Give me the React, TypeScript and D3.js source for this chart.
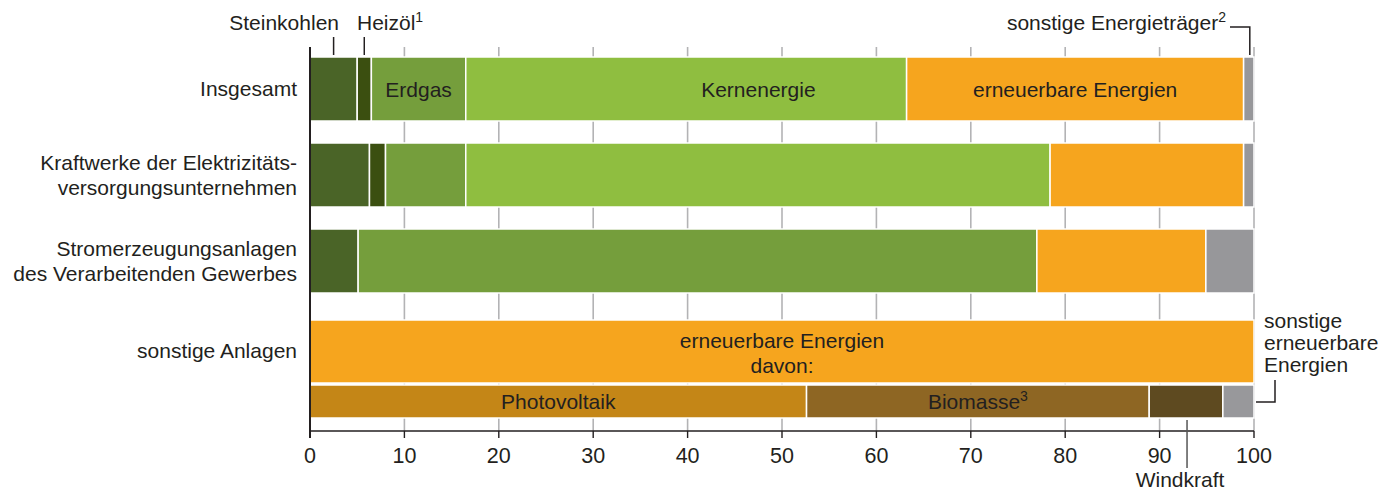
import React from "react";
import * as d3 from "d3";

// ---------- data ----------
const categories = [
  "Insgesamt",
  "Kraftwerke der Elektrizitäts-|versorgungsunternehmen",
  "Stromerzeugungsanlagen|des Verarbeitenden Gewerbes",
  "sonstige Anlagen",
];
const seriesKeys = ["Steinkohlen", "Heizöl", "Erdgas", "Kernenergie", "erneuerbare Energien", "sonstige Energieträger"];
const steinkohlen = [5.0, 6.3, 5.1, 0];
const heizoel = [1.5, 1.7, 0, 0];
const erdgas = [10.0, 8.5, 71.9, 0];
const kernenergie = [46.7, 61.9, 0, 0];
const erneuerbare = [35.7, 20.5, 17.9, 100];
const sonstige = [1.1, 1.1, 5.1, 0];
const seriesColors = ["#4a6427", "#3b4f10", "#759e3c", "#8fbe40", "#f6a51e", "#97979a"];

const davonKeys = ["Photovoltaik", "Biomasse", "Windkraft", "sonstige erneuerbare Energien"];
const davonValues = [52.6, 36.3, 7.8, 3.3];
const davonColors = ["#c48617", "#8e6623", "#5e4a20", "#98989b"];

const xTicks = [0, 10, 20, 30, 40, 50, 60, 70, 80, 90, 100];

// ---------- layout ----------
const W = 1384;
const H = 490;
const FONT = "'Liberation Sans', Arial, Helvetica, sans-serif";
const TXT = "#231f20";
const FS = 21;
const SUP = 14;

export default function App() {
  const x = d3.scaleLinear().domain([0, 100]).range([310, 1254]);
  const y = d3.scaleLinear().domain([0, 3]).range([57, 315]);
  const barH = 64;
  const axisY = 431;

  const rows = categories.map((c, i) => ({
    cat: c,
    "Steinkohlen": steinkohlen[i],
    "Heizöl": heizoel[i],
    "Erdgas": erdgas[i],
    "Kernenergie": kernenergie[i],
    "erneuerbare Energien": erneuerbare[i],
    "sonstige Energieträger": sonstige[i],
  }));
  const stacked = d3.stack<any>().keys(seriesKeys)(rows);

  const davonRow = [Object.fromEntries(davonKeys.map((k, i) => [k, davonValues[i]]))];
  const davonStack = d3.stack<any>().keys(davonKeys)(davonRow);

  const rowTop = (i: number) => (i === 3 ? y(i) + 5 : y(i));
  const rowHeight = (i: number) => (i === 3 ? 63 : barH);
  const subTop = y(3) + 70;
  const subH = 33;

  const mid = (a: number, b: number) => x((a + b) / 2);
  const seg = (k: number, r: number) => stacked[k][r];

  return (
    <svg
      width={W}
      height={H}
      style={{ display: "block", fontFamily: FONT, position: "absolute", left: 0, top: 0 }}
    >
      {/* grid lines */}
      {xTicks.filter((t) => t > 0).map((t) => (
        <line key={"g" + t} x1={x(t)} x2={x(t)} y1={47} y2={axisY} stroke="#b3b3b5" strokeWidth={1.6} />
      ))}

      {/* stacked bars */}
      {stacked.map((s, k) =>
        s.map((d, r) => {
          const w = x(d[1]) - x(d[0]);
          if (w <= 0) return null;
          return (
            <rect
              key={`b${k}-${r}`}
              x={x(d[0])}
              y={rowTop(r)}
              width={w}
              height={rowHeight(r)}
              fill={seriesColors[k]}
              stroke="#fff"
              strokeWidth={1.5}
            />
          );
        })
      )}

      {/* davon bars */}
      {davonStack.map((s, k) => {
        const d = s[0];
        return (
          <rect
            key={"d" + k}
            x={x(d[0])}
            y={subTop}
            width={x(d[1]) - x(d[0])}
            height={subH}
            fill={davonColors[k]}
            stroke="#fff"
            strokeWidth={1.5}
          />
        );
      })}

      {/* axes */}
      <line x1={x(0)} x2={x(0)} y1={47} y2={axisY + 7} stroke="#231f20" strokeWidth={2} />
      <line x1={x(0)} x2={x(100)} y1={axisY} y2={axisY} stroke="#231f20" strokeWidth={1.6} />
      {xTicks.map((t) => (
        <g key={"t" + t}>
          <line x1={x(t)} x2={x(t)} y1={axisY} y2={axisY + 7} stroke="#231f20" strokeWidth={1.4} />
          <text x={x(t)} y={axisY + 32} textAnchor="middle" fontSize={21.5} fill={TXT}>
            {t}
          </text>
        </g>
      ))}

      {/* category labels */}
      {categories.map((c, i) => {
        const lines = c.split("|");
        const cy = rowTop(i) + (i === 3 ? 31 : barH / 2);
        const lh = 25;
        const start = cy - ((lines.length - 1) * lh) / 2 + 7;
        return (
          <text key={"c" + i} x={297} textAnchor="end" fontSize={FS} fill={TXT}>
            {lines.map((l, j) => (
              <tspan key={j} x={297} y={start + j * lh}>
                {l}
              </tspan>
            ))}
          </text>
        );
      })}

      {/* in-bar labels row 0 */}
      <text x={mid(seg(2, 0)[0], seg(2, 0)[1])} y={y(0) + 40} textAnchor="middle" fontSize={FS} fill={TXT}>
        {seriesKeys[2]}
      </text>
      <text x={x(47.5)} y={y(0) + 40} textAnchor="middle" fontSize={FS} fill={TXT}>
        {seriesKeys[3]}
      </text>
      <text x={mid(seg(4, 0)[0], seg(4, 0)[1])} y={y(0) + 40} textAnchor="middle" fontSize={FS} fill={TXT}>
        {seriesKeys[4]}
      </text>

      {/* row 4 labels */}
      <text x={x(50)} y={rowTop(3) + 28} textAnchor="middle" fontSize={FS} fill={TXT}>
        erneuerbare Energien
      </text>
      <text x={x(50)} y={rowTop(3) + 53} textAnchor="middle" fontSize={FS} fill={TXT}>
        davon:
      </text>
      <text x={mid(davonStack[0][0][0], davonStack[0][0][1])} y={subTop + 24} textAnchor="middle" fontSize={FS} fill={TXT}>
        {davonKeys[0]}
      </text>
      <text x={mid(davonStack[1][0][0], davonStack[1][0][1])} y={subTop + 24} textAnchor="middle" fontSize={FS} fill={TXT}>
        {davonKeys[1]}
        <tspan fontSize={SUP} dy={-8}>3</tspan>
      </text>

      {/* top annotations */}
      <text x={339} y={30} textAnchor="end" fontSize={FS} fill={TXT}>
        {seriesKeys[0]}
      </text>
      <line x1={mid(seg(0, 0)[0], seg(0, 0)[1])} x2={mid(seg(0, 0)[0], seg(0, 0)[1])} y1={37} y2={55} stroke={TXT} strokeWidth={1.5} />
      <text x={357} y={30} textAnchor="start" fontSize={FS} fill={TXT}>
        {seriesKeys[1]}
        <tspan fontSize={SUP} dy={-8}>1</tspan>
      </text>
      <line x1={mid(seg(1, 0)[0], seg(1, 0)[1])} x2={mid(seg(1, 0)[0], seg(1, 0)[1])} y1={37} y2={55} stroke={TXT} strokeWidth={1.5} />

      <text x={1226} y={30} textAnchor="end" fontSize={FS} fill={TXT}>
        {seriesKeys[5]}
        <tspan fontSize={SUP} dy={-8}>2</tspan>
      </text>
      <path
        d={`M1230,27H${mid(seg(5, 0)[0], seg(5, 0)[1]) + 1}V55`}
        fill="none"
        stroke={TXT}
        strokeWidth={1.5}
      />

      {/* right annotation */}
      <text x={1264} fontSize={FS} fill={TXT}>
        <tspan x={1264} y={328}>sonstige</tspan>
        <tspan x={1264} y={350}>erneuerbare</tspan>
        <tspan x={1264} y={372}>Energien</tspan>
      </text>
      <path d={`M${x(100) + 2},402H1275V380`} fill="none" stroke={TXT} strokeWidth={1.5} />

      {/* Windkraft */}
      <line
        x1={mid(davonStack[2][0][0], davonStack[2][0][1]) + 1}
        x2={mid(davonStack[2][0][0], davonStack[2][0][1]) + 1}
        y1={subTop + subH + 2}
        y2={468}
        stroke="#555"
        strokeWidth={1.5}
      />
      <text x={1180} y={487} textAnchor="middle" fontSize={FS} fill={TXT}>
        {davonKeys[2]}
      </text>
    </svg>
  );
}
